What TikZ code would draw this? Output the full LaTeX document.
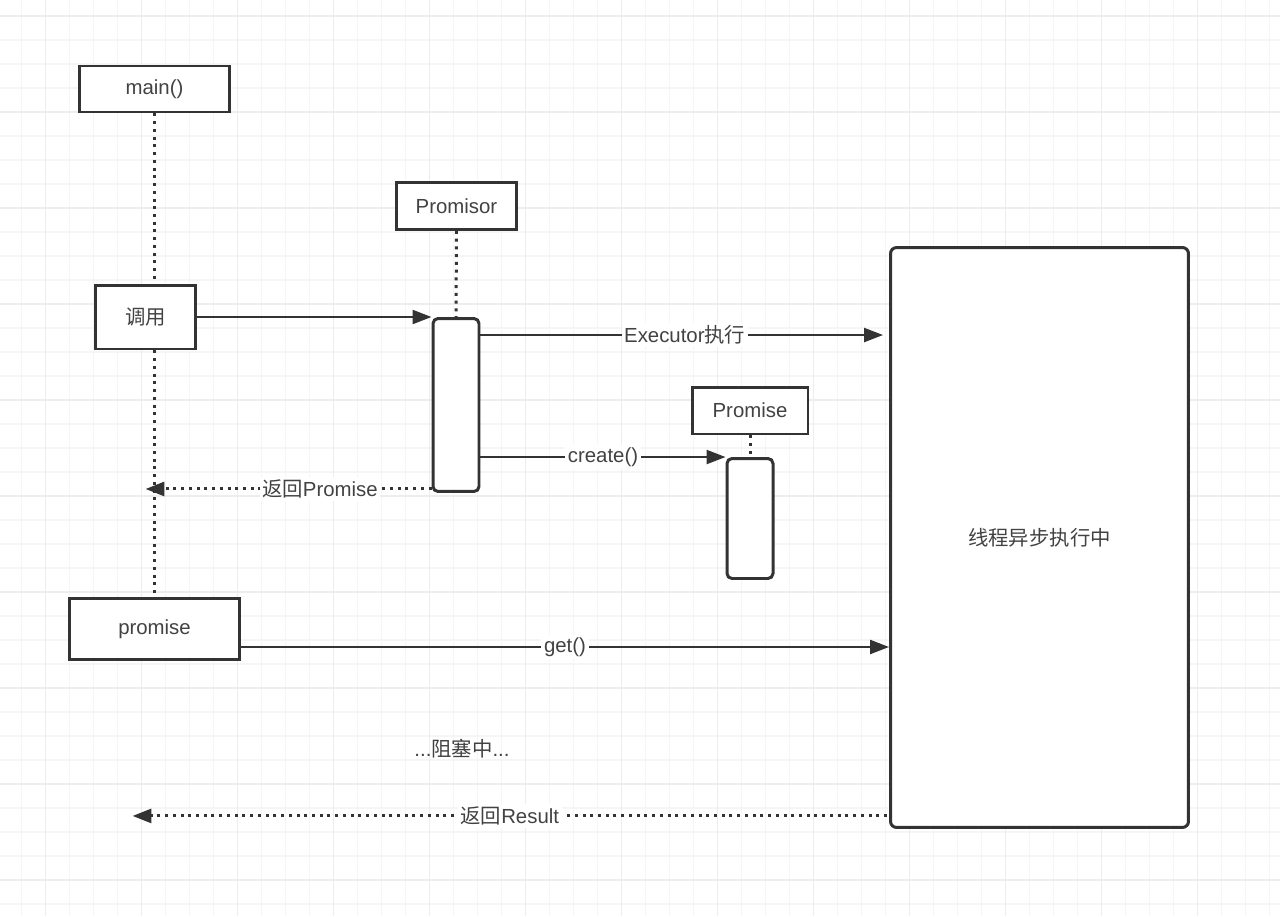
\documentclass[tikz,border=0pt]{standalone}
\usepackage{fontspec}
\setmainfont{Liberation Sans}
\newfontfamily\cjk{Noto Sans CJK SC}
\usetikzlibrary{arrows.meta,calc}
\definecolor{inkgrey}{HTML}{333333}
\definecolor{textgrey}{HTML}{424242}
\definecolor{gridminor}{HTML}{F5F5F5}
\definecolor{gridmajor}{HTML}{EDEDED}
\tikzset{
  boxfont/.style={font=\fontsize{11.6}{14}\selectfont},
  objbox/.style={draw=inkgrey, line width=1.7pt, fill=white, text=textgrey, boxfont, inner sep=0pt},
  actbox/.style={draw=inkgrey, line width=1.7pt, fill=white, rounded corners=0.1cm, minimum width=0.92cm, inner sep=0pt},
  lifeline/.style={draw=inkgrey, line width=1.7pt, dash pattern=on 1.7pt off 2.7pt},
  msg/.style={draw=inkgrey, line width=1.3pt, -{Triangle[length=0.38cm, width=0.28cm]}},
  reply/.style={msg, line width=1.7pt, dash pattern=on 1.7pt off 2.7pt},
  msglabel/.style={fill=white, text=textgrey, boxfont, inner sep=1.5pt},
}
\begin{document}
\begin{tikzpicture}[x=0.02cm, y=-0.02cm]
  \useasboundingbox (0,0) rectangle (1280,916);
  \fill[white] (0,0) rectangle (1280,916);

  %%%%% GRID %%%%%
  \foreach \gx in {21.7,45.7,...,1275} \draw[gridminor, line width=0.8pt] (\gx,0) -- (\gx,916);
  \foreach \gy in {16,40,...,910} \draw[gridminor, line width=0.8pt] (0,\gy) -- (1280,\gy);
  \foreach \gx in {45.7,141.7,...,1275} \draw[gridmajor, line width=0.8pt] (\gx,0) -- (\gx,916);
  \foreach \gy in {16,112,...,910} \draw[gridmajor, line width=0.8pt] (0,\gy) -- (1280,\gy);

  %%%%% OBJECTS %%%%%
  \node[objbox, minimum width=3.0cm, minimum height=0.92cm] (main) at (154.5,89) {main()};
  \node[objbox, minimum width=2.0cm, minimum height=1.28cm] (call) at (145.5,317) {\cjk 调用};
  \node[objbox, minimum width=3.4cm, minimum height=1.22cm] (promise) at (154.5,629) {promise};
  \node[objbox, minimum width=2.4cm, minimum height=0.94cm] (promisor) at (456.5,206) {Promisor};
  \node[actbox, minimum height=3.46cm] (pact) at (456,405) {};
  \node[objbox, minimum width=2.32cm, minimum height=0.94cm] (promiseobj) at (750,410.5) {Promise};
  \node[actbox, minimum height=2.4cm] (oact) at (750,518.5) {};
  \node[objbox, rounded corners=0.12cm, minimum width=5.96cm, minimum height=11.6cm] (worker) at (1039.5,537.5) {\cjk 线程异步执行中};
  \node[text=textgrey, boxfont] (blocked) at (462,749) {...{\cjk 阻塞中}...};

  %%%%% LIFELINES %%%%%
  \draw[lifeline] (main.south) -- (main.south |- call.north);
  \draw[lifeline] (main.south |- call.south) -- (main.south |- promise.north);
  \draw[lifeline] (promisor.south) -- (pact.north);
  \draw[lifeline] (promiseobj.south) -- (oact.north);

  %%%%% MESSAGES %%%%%
  \draw[msg] (call.east) -- (call.east -| pact.west);
  \draw[msg, shorten >=0.12cm] ($(pact.north east)+(0,18)$) -- ($(worker.west |- pact.north)+(0,18)$)
    node[msglabel, midway] {Executor{\cjk 执行}};
  \draw[msg] (oact.north west -| pact.east) -- (oact.north west)
    node[msglabel, midway] {create()};
  \draw[reply] ($(pact.south west)+(0,-4)$) -- ($(main.south |- pact.south)+(-9,-4)$)
    node[msglabel, pos=0.39] {{\cjk 返回}Promise};
  \draw[msg] ($(promise.south east)+(0,-14)$) -- ($(worker.west |- promise.south)+(0,-14)$)
    node[msglabel, midway] {get()};
  \draw[reply] ($(worker.south west)+(-2,-13)$) -- ($(main.south |- worker.south)+(-22,-13)$)
    node[msglabel, midway] {{\cjk 返回}Result};
\end{tikzpicture}
\end{document}
